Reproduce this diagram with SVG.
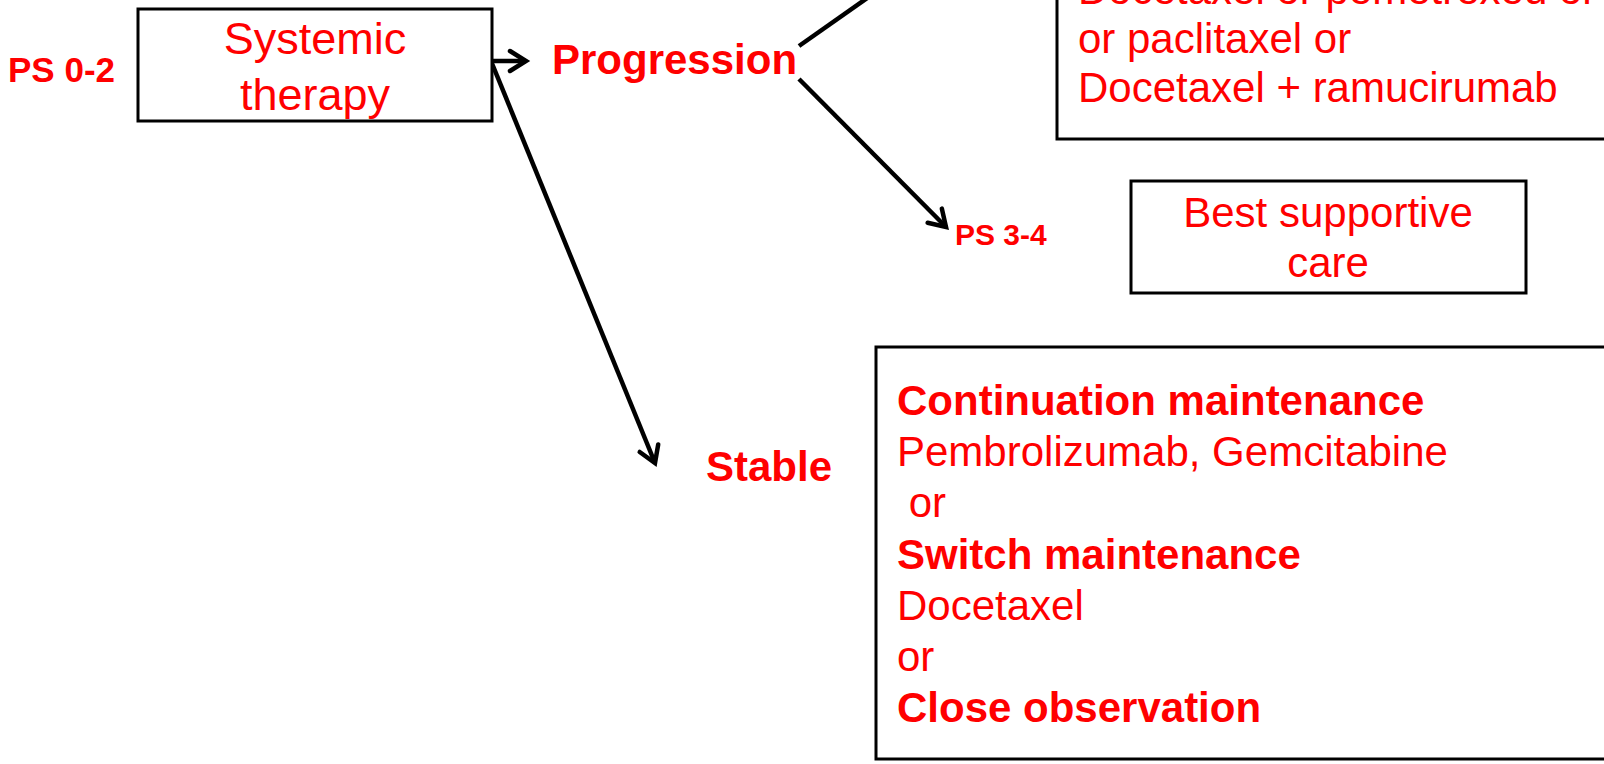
<svg xmlns="http://www.w3.org/2000/svg" width="1604" height="764" viewBox="0 0 1604 764">
<style>
text{font-family:"Liberation Sans",Arial,sans-serif;fill:#FF0000;}
.b{font-weight:bold;}
.box{fill:#fff;stroke:#000;stroke-width:3;}
.con{stroke:#000;stroke-width:4.5;fill:none;}
</style>
<defs>
<marker id="arr" viewBox="-20 -13 24 26" markerWidth="24" markerHeight="26" refX="0" refY="0" orient="auto" markerUnits="userSpaceOnUse" overflow="visible">
<path d="M-16,-10 L0,0 L-16,10" fill="none" stroke="#000" stroke-width="4.5" stroke-linecap="round" stroke-linejoin="miter"/>
</marker>
</defs>
<rect width="1604" height="764" fill="#fff"/>
<g id="connectors">
<line class="con" x1="492" y1="61" x2="526" y2="61" marker-end="url(#arr)"/>
<line class="con" x1="799" y1="46" x2="890" y2="-18"/>
<line class="con" x1="799" y1="79" x2="946" y2="227" marker-end="url(#arr)"/>
<line class="con" x1="491" y1="61" x2="655" y2="463" marker-end="url(#arr)"/>
</g>
<g id="ps02"><text class="b" x="8" y="82" font-size="35">PS 0-2</text></g>
<g id="systemic">
<rect class="box" x="138" y="9" width="354" height="112"/>
<text x="315" y="54" font-size="45" text-anchor="middle">Systemic</text>
<text x="315" y="110" font-size="45" text-anchor="middle">therapy</text>
</g>
<g id="progression"><text class="b" x="552" y="74" font-size="42">Progression</text></g>
<g id="second-line">
<rect class="box" x="1057" y="-20" width="570" height="159"/>
<text x="1078" y="4" font-size="42">Docetaxel or pemetrexed or</text>
<text x="1078" y="53" font-size="42">or paclitaxel or</text>
<text x="1078" y="102" font-size="42">Docetaxel + ramucirumab</text>
</g>
<g id="ps34"><text class="b" x="955" y="245" font-size="30">PS 3-4</text></g>
<g id="bsc">
<rect class="box" x="1131" y="181" width="395" height="112"/>
<text x="1328" y="227" font-size="42" text-anchor="middle">Best supportive</text>
<text x="1328" y="277" font-size="42" text-anchor="middle">care</text>
</g>
<g id="stable"><text class="b" x="706" y="481" font-size="42">Stable</text></g>
<g id="maintenance">
<rect class="box" x="876" y="347" width="760" height="412"/>
<text class="b" x="897" y="415" font-size="42">Continuation maintenance</text>
<text x="897" y="466" font-size="42">Pembrolizumab, Gemcitabine</text>
<text x="897" y="517" font-size="42" xml:space="preserve"> or</text>
<text class="b" x="897" y="569" font-size="42">Switch maintenance</text>
<text x="897" y="620" font-size="42">Docetaxel</text>
<text x="897" y="671" font-size="42">or</text>
<text class="b" x="897" y="722" font-size="42">Close observation</text>
</g>
</svg>
